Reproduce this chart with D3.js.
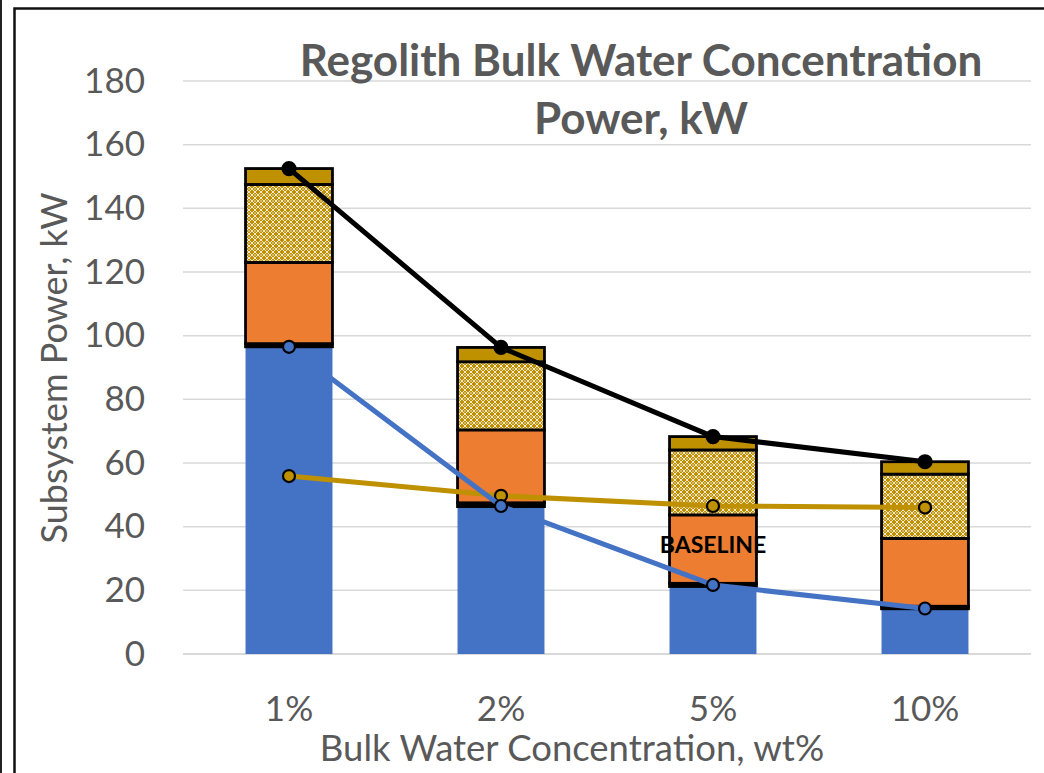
<!DOCTYPE html>
<html>
<head>
<meta charset="utf-8">
<script src="https://cdn.jsdelivr.net/npm/d3@7"></script>
<style>
  html, body { margin: 0; padding: 0; background: #fff; }
  svg { display: block; font-family: Lato, "Open Sans", sans-serif; }
</style>
</head>
<body>
<svg id="chart" width="1044" height="773"></svg>
<script>
// categories and series (kW)
const concentrations = ['1%', '2%', '5%', '10%'];
const bluePart   = [96.5, 46.3, 21.2, 14.2];
const blackPart  = [1.0, 1.2, 1.0, 0.8];
const orangePart = [25.5, 22.9, 21.5, 21.3];
const hatchPart  = [24.5, 21.4, 20.4, 20.2];
const goldPart   = [5.0, 4.5, 4.2, 3.9];

const totalLine  = [152.5, 96.3, 68.3, 60.4];
const blueLine   = [96.5, 46.5, 21.7, 14.3];
const goldLine   = [55.9, 49.7, 46.5, 46.0];

const yTicks = [0, 20, 40, 60, 80, 100, 120, 140, 160, 180];

(function() {
  'use strict';

  const svg = d3.select('#chart');
  const BLUE = '#4472C4', ORANGE = '#ED7D31', GOLD = '#BF9000', GREY = '#595959';

  // pattern for the hatched segment
  const defs = svg.append('defs');
  const pat = defs.append('pattern')
    .attr('id', 'hatch')
    .attr('patternUnits', 'userSpaceOnUse')
    .attr('width', 6).attr('height', 6);
  pat.append('rect').attr('width', 6).attr('height', 6).attr('fill', GOLD);
  pat.append('path')
    .attr('d', 'M0,3L3,0M3,6L6,3M0,3L3,6M3,0L6,3')
    .attr('stroke', '#fff').attr('stroke-width', 0.9).attr('stroke-opacity', 0.9);
  pat.append('rect').attr('x', 2.4).attr('y', 2.4).attr('width', 1.2).attr('height', 1.2).attr('fill', '#fff');

  // frame
  svg.append('line').attr('x1', 1).attr('x2', 1).attr('y1', 0).attr('y2', 773)
    .attr('stroke', '#222').attr('stroke-width', 2);
  svg.append('path').attr('d', 'M14.5,773V8.5H1044')
    .attr('fill', 'none').attr('stroke', '#111').attr('stroke-width', 2.5);

  const x = d3.scaleBand()
    .domain(concentrations)
    .range([183, 1031])
    .paddingInner(0.59)
    .paddingOuter(0.295);

  const y = d3.scaleLinear().domain([0, 180]).range([654, 81]);

  // gridlines
  svg.append('g').selectAll('line')
    .data(yTicks)
    .join('line')
      .attr('x1', 183).attr('x2', 1031)
      .attr('y1', d => y(d)).attr('y2', d => y(d))
      .attr('stroke', '#D9D9D9')
      .attr('stroke-width', d => d === 0 ? 2 : 1.5);

  // y tick labels
  const yAxis = svg.append('g')
    .attr('transform', 'translate(160,0)')
    .call(d3.axisLeft(y).tickValues(yTicks).tickSize(0).tickPadding(15));
  yAxis.select('.domain').remove();
  yAxis.selectAll('text')
    .attr('font-family', 'Lato, sans-serif')
    .attr('font-size', 35).attr('fill', GREY);

  // x tick labels
  const xAxis = svg.append('g')
    .attr('transform', 'translate(0,696)')
    .call(d3.axisBottom(x).tickSize(0).tickPadding(0));
  xAxis.select('.domain').remove();
  xAxis.selectAll('text')
    .attr('font-family', 'Lato, sans-serif')
    .attr('font-size', 35).attr('fill', GREY);

  // stacked bars
  const rows = concentrations.map((c, i) => ({
    cat: c, blue: bluePart[i], black: blackPart[i], orange: orangePart[i],
    hatch: hatchPart[i], gold: goldPart[i]
  }));
  const keys = ['blue', 'black', 'orange', 'hatch', 'gold'];
  const fills = { blue: BLUE, black: '#000', orange: ORANGE, hatch: 'url(#hatch)', gold: GOLD };
  const series = d3.stack().keys(keys)(rows);

  svg.append('g').selectAll('g')
    .data(series)
    .join('g')
      .attr('fill', d => fills[d.key])
      .attr('stroke', d => d.key === 'blue' ? 'none' : '#000')
      .attr('stroke-width', 2.8)
    .selectAll('rect')
    .data(d => d)
    .join('rect')
      .attr('x', d => x(d.data.cat))
      .attr('width', x.bandwidth())
      .attr('y', d => y(d[1]))
      .attr('height', d => y(d[0]) - y(d[1]));

  // BASELINE label on the 5% bar
  svg.append('text')
    .attr('x', x('5%') + x.bandwidth() / 2)
    .attr('y', y(34.3))
    .attr('text-anchor', 'middle')
    .attr('dy', '0.35em')
    .attr('font-family', 'Lato, sans-serif')
    .attr('font-weight', 'bold')
    .attr('font-size', 23)
    .attr('fill', '#000')
    .text('BASELINE');

  // lines with markers
  const cx = c => x(c) + x.bandwidth() / 2;
  const lineGen = vals => d3.line().x((d, i) => cx(concentrations[i])).y(d => y(d))(vals);

  const lineSets = [
    { vals: goldLine, color: GOLD, mfill: GOLD, r: 6 },
    { vals: blueLine, color: BLUE, mfill: BLUE, r: 6 },
    { vals: totalLine, color: '#000', mfill: '#000', r: 6.5 }
  ];

  lineSets.forEach(s => {
    svg.append('path')
      .attr('d', lineGen(s.vals))
      .attr('fill', 'none')
      .attr('stroke', s.color)
      .attr('stroke-width', 5)
      .attr('stroke-linejoin', 'round');
    svg.append('g').selectAll('circle')
      .data(s.vals)
      .join('circle')
        .attr('cx', (d, i) => cx(concentrations[i]))
        .attr('cy', d => y(d))
        .attr('r', s.r)
        .attr('fill', s.mfill)
        .attr('stroke', '#000')
        .attr('stroke-width', 2.2);
  });

  // titles
  const title = svg.append('text')
    .attr('text-anchor', 'middle')
    .attr('font-family', 'Lato, sans-serif')
    .attr('font-weight', 'bold')
    .attr('font-size', 44)
    .attr('fill', GREY);
  title.append('tspan').attr('x', 641).attr('y', 76).text('Regolith Bulk Water Concentration');
  title.append('tspan').attr('x', 641).attr('y', 134).text('Power, kW');

  svg.append('text')
    .attr('x', 572).attr('y', 761)
    .attr('text-anchor', 'middle')
    .attr('font-family', 'Lato, sans-serif')
    .attr('font-size', 36.5)
    .attr('fill', GREY)
    .text('Bulk Water Concentration, wt%');

  svg.append('text')
    .attr('transform', 'translate(67,368) rotate(-90)')
    .attr('text-anchor', 'middle')
    .attr('font-family', 'Lato, sans-serif')
    .attr('font-size', 36)
    .attr('fill', GREY)
    .text('Subsystem Power, kW');
})();
</script>
</body>
</html>
